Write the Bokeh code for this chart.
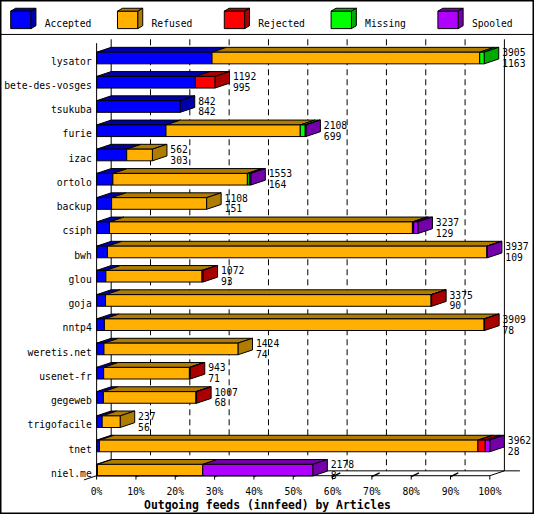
from bokeh.plotting import figure
from bokeh.models import Range1d
from bokeh.embed import file_html
from bokeh.resources import INLINE
from bokeh.core.properties import value

# ---------------- data ----------------
feeds = ["lysator", "bete-des-vosges", "tsukuba", "furie", "izac", "ortolo",
         "backup", "csiph", "bwh", "glou", "goja", "nntp4", "weretis.net",
         "usenet-fr", "gegeweb", "trigofacile", "tnet", "niel.me"]
offered = [3905, 1192, 842, 2108, 562, 1553, 1108, 3237, 3937, 1072, 3375,
           3909, 1424, 943, 1007, 237, 3962, 2178]
accepted = [1163, 995, 842, 699, 303, 164, 151, 129, 109, 93, 90, 78, 74,
            71, 68, 56, 28, 8]
refused = [2697, 0, 0, 1353, 259, 1355, 957, 3053, 3823, 969, 3280, 3826,
           1350, 864, 933, 181, 3814, 1061]
rejected = [0, 197, 0, 0, 0, 0, 0, 13, 0, 10, 5, 5, 0, 8, 6, 0, 74, 0]
missing = [45, 0, 0, 50, 0, 20, 0, 0, 0, 0, 0, 0, 0, 0, 0, 0, 0, 0]
spooled = [0, 0, 0, 6, 0, 14, 0, 42, 5, 0, 0, 0, 0, 0, 0, 0, 46, 1109]

series_names = ["Accepted", "Refused", "Rejected", "Missing", "Spooled"]
front_colors = ["#0000ff", "#ffb000", "#ff0000", "#00ff00", "#b000ff"]
dark_colors = ["#0000aa", "#b07c00", "#aa0000", "#00aa00", "#7400aa"]

tick_values = [0, 10, 20, 30, 40, 50, 60, 70, 80, 90, 100]
tick_labels = ["0%", "10%", "20%", "30%", "40%", "50%", "60%", "70%",
               "80%", "90%", "100%"]
title_text = "Outgoing feeds (innfeed) by Articles"

# ---------------- layout helpers (reference pixel -> data units) ----------------
W, H = 534, 514
REF_W, REF_H = 550, 530
X_ZERO, X_SPAN = 99.0, 4.05   # px of 0 %, px per 1 %
Y_ZERO, Y_STEP = 59.3, 25.0   # px of first row centre, px per row


def X(px):
    return (px - X_ZERO) / X_SPAN


def Y(py):
    return (py - Y_ZERO) / Y_STEP


DX = 15 / X_SPAN      # depth offset (x) in % units
DY = 5 / Y_STEP       # depth offset (y) in row units
HALF = 6 / Y_STEP     # half height of a bar front face

FONT = value("DejaVu Sans Mono")
FS = "9.7px"

p = figure(width=W, height=H, output_backend="svg", toolbar_location=None,
           x_range=Range1d(X(0), X(REF_W)), y_range=Range1d(Y(REF_H), Y(0)),
           x_axis_type=None, y_axis_type=None, min_border=0,
           background_fill_color="white", border_fill_color="white")
p.outline_line_color = "black"
p.outline_line_width = 2
p.xgrid.visible = False
p.ygrid.visible = False

# ---------------- legend ----------------
p.segment(x0=[X(0)], y0=[Y(35)], x1=[X(REF_W)], y1=[Y(35)], line_color="black", line_width=1)
for i, name in enumerate(series_names):
    x0 = 10.5 + 110 * i
    p.quad(left=[X(x0)], right=[X(x0 + 21)], top=[Y(11)], bottom=[Y(29)],
           fill_color=front_colors[i], line_color="black", line_width=1)
    p.patch(x=[X(x0), X(x0 + 5), X(x0 + 26), X(x0 + 21)], y=[Y(11), Y(8), Y(8), Y(11)],
            fill_color=dark_colors[i], line_color="black", line_width=1)
    p.patch(x=[X(x0 + 21), X(x0 + 26), X(x0 + 26), X(x0 + 21)], y=[Y(11), Y(8), Y(26), Y(29)],
            fill_color=dark_colors[i], line_color="black", line_width=1)
    p.text(x=[X(x0 + 35)], y=[Y(24)], text=[name], text_font=FONT, text_font_size=FS,
           text_baseline="alphabetic", text_align="left", text_color="black")

# ---------------- back plane / grid ----------------
top_y, back_y, front_y = Y(40), Y(485), Y(490)
dashed = [t + DX for t in tick_values[1:-1]]
p.segment(x0=dashed, y0=[top_y] * len(dashed), x1=dashed, y1=[back_y] * len(dashed),
          line_color="black", line_width=1, line_dash="6 4")
p.segment(x0=[tick_values[0] + DX, tick_values[-1] + DX], y0=[top_y, top_y],
          x1=[tick_values[0] + DX, tick_values[-1] + DX], y1=[back_y, back_y],
          line_color="black", line_width=1)
# floor
p.segment(x0=[DX], y0=[back_y], x1=[X(535)], y1=[back_y], line_color="black", line_width=1)
p.segment(x0=[tick_values[-1]], y0=[front_y], x1=[tick_values[-1] + DX], y1=[back_y],
          line_color="black", line_width=1)
p.segment(x0=[X(86)], y0=[Y(494.3)], x1=[tick_values[0]], y1=[front_y],
          line_color="black", line_width=1)
# small 3D tick marks on the floor
p.segment(x0=tick_values[1:-1], y0=[Y(491)] * 9, x1=[t + 8 / X_SPAN for t in tick_values[1:-1]],
          y1=[Y(487)] * 9, line_color="black", line_width=1.5)

# ---------------- bars ----------------
vmax = max(offered)
series = [accepted, refused, rejected, missing, spooled]
fl, fr, ft, fb, fc = [], [], [], [], []
txs, tys, tcs = [], [], []
sxs, sys_, scs = [], [], []
for r in range(len(feeds)):
    cum = 0
    last = None
    for k, vals in enumerate(series):
        v = vals[r]
        if v <= 0:
            continue
        left = cum / vmax * 100
        cum += v
        right = cum / vmax * 100
        fl.append(left); fr.append(right); ft.append(r - HALF); fb.append(r + HALF)
        fc.append(front_colors[k])
        txs.append([left, left + DX, right + DX, right])
        tys.append([r - HALF, r - HALF - DY, r - HALF - DY, r - HALF])
        tcs.append(dark_colors[k])
        last = (right, k)
    if last is not None:
        right, k = last
        sxs.append([right, right + DX, right + DX, right])
        sys_.append([r - HALF, r - HALF - DY, r + HALF - DY, r + HALF])
        scs.append(dark_colors[k])

p.patches(xs=txs, ys=tys, fill_color=tcs, line_color="black", line_width=1)
p.patches(xs=sxs, ys=sys_, fill_color=scs, line_color="black", line_width=1)
p.quad(left=fl, right=fr, top=ft, bottom=fb, fill_color=fc, line_color="black", line_width=1)

# front axis line and floor front edge
p.segment(x0=[tick_values[0]], y0=[Y(44)], x1=[tick_values[0]], y1=[front_y],
          line_color="black", line_width=1)
p.segment(x0=[tick_values[0]], y0=[front_y], x1=[tick_values[-1]], y1=[front_y],
          line_color="black", line_width=1)
p.segment(x0=tick_values, y0=[front_y] * len(tick_values), x1=tick_values,
          y1=[Y(494)] * len(tick_values), line_color="black", line_width=1)

# ---------------- texts ----------------
rows = list(range(len(feeds)))
p.text(x=[X(94)] * len(feeds), y=[r + 3.3 / Y_STEP for r in rows], text=feeds,
       text_font=FONT, text_font_size=FS, text_align="right", text_baseline="alphabetic",
       text_color="black")
lab_x = [o / vmax * 100 + DX + 3.5 / X_SPAN for o in offered]
p.text(x=lab_x, y=[r - 6 / Y_STEP for r in rows], text=[str(v) for v in offered],
       text_font=FONT, text_font_size=FS, text_align="left", text_baseline="alphabetic",
       text_color="black")
p.text(x=lab_x, y=[r + 5 / Y_STEP for r in rows], text=[str(v) for v in accepted],
       text_font=FONT, text_font_size=FS, text_align="left", text_baseline="alphabetic",
       text_color="black")
p.text(x=tick_values, y=[Y(506.5)] * len(tick_values), text=tick_labels,
       text_font=FONT, text_font_size=FS, text_align="center", text_baseline="alphabetic",
       text_color="black")
p.text(x=[X(275)], y=[Y(520.5)], text=[title_text], text_font=FONT,
       text_font_size="11.4px", text_font_style="bold", text_align="center",
       text_baseline="alphabetic", text_color="black")

open("out.html", "w").write(file_html(p, INLINE))
